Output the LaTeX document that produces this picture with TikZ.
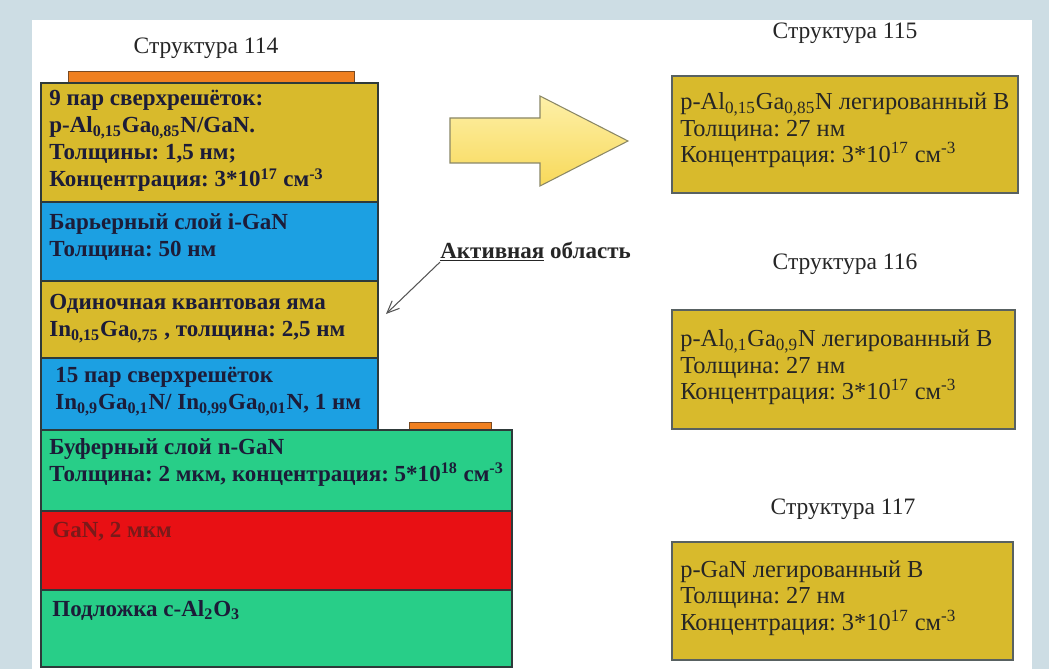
\documentclass[tikz,border=0pt]{standalone}
\usepackage{fontspec}
\setmainfont{Liberation Serif}
\usepackage{xcolor}
\usepackage{tikz}
\usetikzlibrary{arrows.meta}
\frenchspacing
\definecolor{slidebg}{HTML}{CDDDE4}
\definecolor{layergold}{HTML}{D8BA2C}
\definecolor{layerblue}{HTML}{1CA0E2}
\definecolor{layergreen}{HTML}{28CE88}
\definecolor{layerred}{HTML}{E81014}
\definecolor{contactorange}{HTML}{F08020}
\definecolor{contactedge}{HTML}{7A4A22}
\definecolor{layeredge}{HTML}{2E3A3A}
\definecolor{inknavy}{HTML}{1C1C38}
\definecolor{inkred}{HTML}{7A1A1A}
\definecolor{arrowlight}{HTML}{FDF0A8}
\definecolor{arrowdark}{HTML}{F8D95A}
\definecolor{arrowedge}{HTML}{8A8766}
\definecolor{leadgray}{HTML}{555555}

\begin{document}
\begin{tikzpicture}[x=0.02cm,y=-0.02cm,every node/.style={inner sep=0pt},
  plainfont/.style={font=\fontsize{13.4}{15.2}\selectfont},
  boldfont/.style={font=\fontsize{13.1}{15.4}\selectfont\bfseries},
  layer/.style={draw=layeredge,line width=0.6pt},
  laytext/.style={boldfont,anchor=north west,align=left,text=inknavy},
  dopebox/.style={draw=layeredge!80,line width=0.8pt,fill=layergold},
  boxtext/.style={font=\fontsize{13.9}{15.2}\selectfont,anchor=north west,align=left,text=black!85},
  title/.style={plainfont,text=black!85}]
  \useasboundingbox (0,0) rectangle (1049,669);
  \fill[slidebg] (0,0) rectangle (1049,669);
  \fill[white] (32,20) rectangle (1032,669);

  \node[title] (t114) at (206,48) {Структура 114};
  \filldraw[fill=contactorange,draw=contactedge,line width=0.5pt] (68,71) rectangle (354,83);
  \draw[layer,fill=layergold] (41,83) rectangle (378,202);
  \draw[layer,fill=layerblue] (41,202) rectangle (378,281);
  \draw[layer,fill=layergold] (41,281) rectangle (378,358);
  \draw[layer,fill=layerblue] (41,358) rectangle (378,430);
  \filldraw[fill=contactorange,draw=contactedge,line width=0.5pt] (409,422) rectangle (491,430);
  \draw[layer,fill=layergreen] (41,430) rectangle (512,511);
  \draw[layer,fill=layerred] (41,511) rectangle (512,590);
  \draw[layer,fill=layergreen] (41,590) rectangle (512,667);

  \node[laytext] (psl) at (49,90) {9 пар сверхрешёток:\\p-Al\textsubscript{0,15}Ga\textsubscript{0,85}N/GaN.\\Толщины: 1,5 нм;\\Концентрация: 3*10\textsuperscript{17} см\textsuperscript{-3}};
  \node[laytext] (barrier) at (49,213) {Барьерный слой i-GaN\\Толщина: 50 нм};
  \node[laytext] (qw) at (49,294) {Одиночная квантовая яма\\In\textsubscript{0,15}Ga\textsubscript{0,75} , толщина: 2,5 нм};
  \node[laytext] (nsl) at (55,367) {15 пар сверхрешёток\\In\textsubscript{0,9}Ga\textsubscript{0,1}N/ In\textsubscript{0,99}Ga\textsubscript{0,01}N, 1 нм};
  \node[laytext] (buffer) at (49,438) {Буферный слой n-GaN\\Толщина: 2 мкм, концентрация: 5*10\textsuperscript{18} см\textsuperscript{-3}};
  \node[laytext,text=inkred] (gan) at (52,522) {GaN, 2 мкм};
  \node[laytext] (subst) at (52,600) {Подложка с-Al\textsubscript{2}O\textsubscript{3}};

  \shadedraw[top color=arrowlight,bottom color=arrowdark,draw=arrowedge,line width=0.6pt] (450,118) -- (540,118) -- (540,96) -- (628,141) -- (540,186) -- (540,163) -- (450,163) -- cycle;

  \node[boldfont,anchor=base west,text=black!85] (activ) at (440,258) {\underline{Активная} область};
  \coordinate (qwedge) at (386,314);
  \draw[leadgray,line width=0.6pt,-{Straight Barb[length=7pt,width=6pt]}] (activ.south west) -- (qwedge);

  \begin{scope}[shift={(672,76)}]
    \node[title] (t115) at (173,-43) {Структура 115};
    \draw[dopebox] (0,0) rectangle (346,117);
    \node[boxtext] (b115) at (8,16) {p-Al\textsubscript{0,15}Ga\textsubscript{0,85}N легированный B\\Толщина: 27 нм\\Концентрация: 3*10\textsuperscript{17} см\textsuperscript{-3}};
  \end{scope}
  \begin{scope}[shift={(672,310)}]
    \node[title] (t116) at (173,-46) {Структура 116};
    \draw[dopebox] (0,0) rectangle (343,119);
    \node[boxtext] (b116) at (8,19) {p-Al\textsubscript{0,1}Ga\textsubscript{0,9}N легированный B\\Толщина: 27 нм\\Концентрация: 3*10\textsuperscript{17} см\textsuperscript{-3}};
  \end{scope}
  \begin{scope}[shift={(672,542)}]
    \node[title] (t117) at (171,-33) {Структура 117};
    \draw[dopebox] (0,0) rectangle (341,118);
    \node[boxtext] (b117) at (8,18) {p-GaN легированный B\\Толщина: 27 нм\\Концентрация: 3*10\textsuperscript{17} см\textsuperscript{-3}};
  \end{scope}
\end{tikzpicture}
\end{document}
